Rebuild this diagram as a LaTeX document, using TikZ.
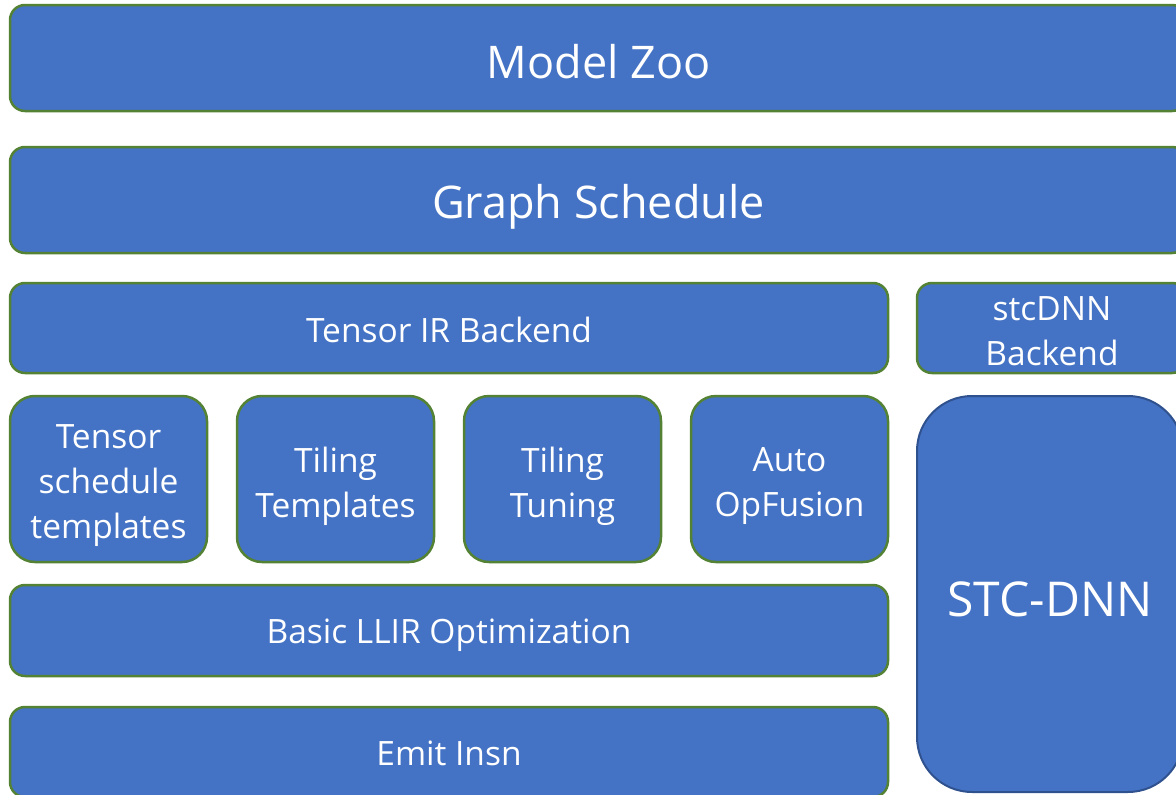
\documentclass[tikz,border=0pt]{standalone}
\usepackage{fontspec}
\setmainfont{Open Sans}
\definecolor{boxfill}{HTML}{4472C4}
\definecolor{boxline}{HTML}{548235}
\definecolor{darkline}{HTML}{2F528F}
\tikzset{
  blk/.style={draw=boxline, line width=2.5pt, fill=boxfill, rounded corners=15pt, inner sep=0pt},
  smallblk/.style={blk, rounded corners=25pt, minimum width=197pt, minimum height=166pt},
  txt/.style={text=white, inner sep=0pt, align=center, font=\fontsize{33.5}{45}\selectfont},
  bigtxt/.style={txt, font=\fontsize{45}{54}\selectfont},
}
\begin{document}
\begin{tikzpicture}[x=1pt,y=-1pt]
\useasboundingbox (0,0) rectangle (1176,795);
\clip (0,0) rectangle (1176,795);
\node[blk, minimum width=1177pt, minimum height=106pt] (zoo) at (598.5,58) {};
\node[blk, minimum width=1177pt, minimum height=106pt] (graph) at (598.5,200) {};
\node[blk, minimum width=878pt, minimum height=90pt] (tir) at (449,328) {};
\node[blk, minimum width=270pt, minimum height=90pt] (stcb) at (1052,328) {};
\node[smallblk] (t1) at (108.5,479) {};
\node[smallblk] (t2) at (335.5,479) {};
\node[smallblk] (t3) at (562.5,479) {};
\node[smallblk] (t4) at (789.5,479) {};
\node[blk, minimum width=878pt, minimum height=91pt] (llir) at (449,630.5) {};
\node[blk, minimum width=878pt, minimum height=90pt] (emit) at (449,752) {};
\node[blk, draw=darkline, line width=2pt, rounded corners=55pt, minimum width=266pt, minimum height=396pt] (stc) at (1050,594) {};
%
\node[bigtxt] (zoo-t) at ([yshift=-4pt]zoo.center) {Model Zoo};
\node[bigtxt] (graph-t) at ([yshift=-7pt]graph.center) {Graph Schedule};
\node[txt] (tir-t) at ([yshift=-2pt]tir.center) {Tensor IR Backend};
\node[txt] (stcb-t) at ([yshift=-3pt]stcb.center) {stcDNN\\Backend};
\node[txt] (t1-t) at ([yshift=-7pt]t1.center) {Tensor\\schedule\\templates};
\node[txt] (t2-t) at ([yshift=-7pt]t2.center) {Tiling\\Templates};
\node[txt] (t3-t) at ([yshift=-7pt]t3.center) {Tiling\\Tuning};
\node[txt] (t4-t) at ([yshift=-7pt]t4.center) {Auto\\OpFusion};
\node[txt] (llir-t) at ([yshift=-5pt]llir.center) {Basic LLIR Optimization};
\node[txt] (emit-t) at ([yshift=-1pt]emit.center) {Emit Insn};
\node[bigtxt, font=\fontsize{48}{56}\selectfont] (stc-t) at ([yshift=-5pt]stc.center) {STC-DNN};
\end{tikzpicture}
\end{document}
